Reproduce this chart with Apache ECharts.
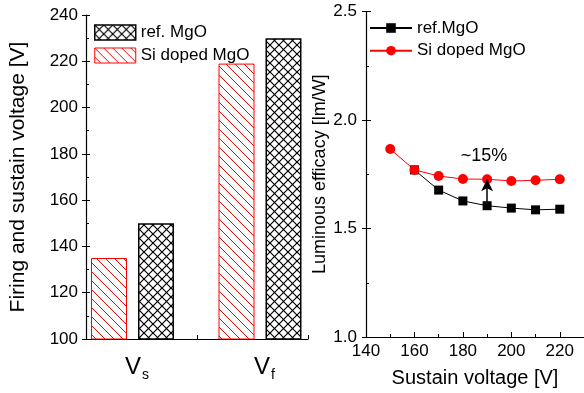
<!DOCTYPE html>
<html>
<head>
<meta charset="utf-8">
<script src="https://cdn.jsdelivr.net/npm/echarts@6/dist/echarts.min.js"></script>
<style>
  html, body { margin: 0; padding: 0; background: #fff; }
  #chart { width: 584px; height: 393px; }
</style>
</head>
<body>
<div id="chart"></div>
<script>
// Left panel: firing (Vf) and sustain (Vs) voltages
const voltCategories = ['Vs', 'Vf'];
const voltSiDoped = [135, 219];
const voltRef = [150, 230];
const voltTicks = [100, 120, 140, 160, 180, 200, 220, 240];

// Right panel: luminous efficacy vs sustain voltage
const effVoltRef = [160, 170, 180, 190, 200, 210, 220];
const effRef = [1.77, 1.677, 1.627, 1.605, 1.594, 1.586, 1.589];
const effVoltSi = [150, 160, 170, 180, 190, 200, 210, 220];
const effSi = [1.866, 1.77, 1.742, 1.728, 1.727, 1.719, 1.722, 1.727];
const effXTicks = [140, 160, 180, 200, 220];
const effYTicks = [1.0, 1.5, 2.0, 2.5];

const FONT = '"Liberation Sans", Arial, sans-serif';
const RED = '#ff0000';

// Hatch tiles used as bar fills
function hatchTile(color, width, cross) {
  const s = 9;
  const c = document.createElement('canvas');
  c.width = s; c.height = s;
  const g = c.getContext('2d');
  g.strokeStyle = color;
  g.lineWidth = width;
  for (let k = -s; k <= s; k += s) {
    g.beginPath(); g.moveTo(k, 0); g.lineTo(k + s, s); g.stroke();
    if (cross) { g.beginPath(); g.moveTo(k + s, 0); g.lineTo(k, s); g.stroke(); }
  }
  return { image: c, repeat: 'repeat' };
}
const siHatch = hatchTile(RED, 1, false);
const refHatch = hatchTile('#000', 1.2, true);

const pair = (xs, ys) => xs.map((x, i) => [x, ys[i]]);
const at190Ref = effRef[effVoltRef.indexOf(190)];
const at190Si = effSi[effVoltSi.indexOf(190)];

const tickLabel = { color: '#000', fontSize: 17, fontFamily: FONT };
const axisLine = { show: true, lineStyle: { color: '#000', width: 1.2 } };

const chart = echarts.init(document.getElementById('chart'), null, { renderer: 'canvas' });

chart.setOption({
  animation: false,
  backgroundColor: '#fff',
  grid: [
    { left: 86, top: 15, width: 222, height: 324 },      // left frame
    { left: 68.75, top: 15, width: 255, height: 324 },   // left bars
    { left: 366, top: 11.5, width: 220, height: 327 }    // right plot
  ],
  legend: [
    {
      orient: 'vertical', left: 89, top: 19, itemWidth: 41, itemHeight: 15, itemGap: 6,
      textStyle: { fontSize: 17, lineHeight: 17, fontFamily: FONT, color: '#000' },
      data: [
        { name: 'ref. MgO', icon: 'rect', itemStyle: { color: refHatch, borderColor: '#000', borderWidth: 1.5 } },
        { name: 'Si doped MgO', icon: 'rect', itemStyle: { color: siHatch, borderColor: RED, borderWidth: 1 } }
      ]
    },
    {
      orient: 'vertical', left: 364, top: 14.5, itemWidth: 42, itemHeight: 12, itemGap: 5.7,
      textStyle: { fontSize: 17, lineHeight: 17, fontFamily: FONT, color: '#000' },
      formatter: n => n.trim(),
      data: ['ref.MgO', 'Si doped MgO ']
    }
  ],
  xAxis: [
    {
      gridIndex: 0, type: 'category', data: voltCategories, boundaryGap: true,
      axisLine: axisLine, axisLabel: { show: false },
      axisTick: { show: true, inside: true, length: 4, interval: 0, lineStyle: { color: '#000' } },
      splitLine: { show: false }
    },
    {
      gridIndex: 1, type: 'category', data: voltCategories, boundaryGap: true,
      axisLine: { show: false }, axisTick: { show: false }, splitLine: { show: false },
      axisLabel: {
        margin: 14, color: '#000', fontFamily: FONT,
        formatter: v => '{v|V}{sub|' + v.slice(1) + '}',
        rich: {
          v: { fontSize: 24, lineHeight: 28, fontFamily: FONT, color: '#000', padding: [0, 0, 0, 9] },
          sub: { fontSize: 14, lineHeight: 14, fontFamily: FONT, color: '#000', padding: [16, 0, 0, 1] }
        }
      }
    },
    {
      gridIndex: 2, type: 'value', min: effXTicks[0], max: 230, interval: 20,
      axisLine: axisLine,
      axisTick: { show: true, inside: true, length: 5, lineStyle: { color: '#000' } },
      minorTick: { show: true, splitNumber: 2, length: 3, lineStyle: { color: '#000' } },
      axisLabel: Object.assign({ margin: 6 }, tickLabel),
      splitLine: { show: false },
      name: 'Sustain voltage [V]', nameLocation: 'middle', nameGap: 31,
      nameTextStyle: { fontSize: 20, fontFamily: FONT, color: '#000' }
    }
  ],
  yAxis: [
    {
      gridIndex: 0, type: 'value', position: 'left',
      min: voltTicks[0], max: voltTicks[voltTicks.length - 1], interval: 20,
      axisLine: axisLine,
      axisTick: { show: true, inside: false, length: 4, lineStyle: { color: '#000' } },
      axisLabel: Object.assign({ margin: 8 }, tickLabel),
      splitLine: { show: false },
      name: 'Firing and sustain voltage [V]', nameLocation: 'middle', nameGap: 57,
      nameTextStyle: { fontSize: 21, fontFamily: FONT, color: '#000' }
    },
    {
      gridIndex: 0, type: 'value', position: 'left',
      min: voltTicks[0], max: voltTicks[voltTicks.length - 1], interval: 20,
      axisLine: { show: false }, axisLabel: { show: false }, splitLine: { show: false },
      axisTick: { show: true, inside: true, length: 4, lineStyle: { color: '#000' } },
      minorTick: { show: true, splitNumber: 2, length: 3, lineStyle: { color: '#000' } }
    },
    {
      gridIndex: 1, type: 'value', show: false,
      min: voltTicks[0], max: voltTicks[voltTicks.length - 1]
    },
    {
      gridIndex: 2, type: 'value', position: 'left',
      min: effYTicks[0], max: effYTicks[effYTicks.length - 1], interval: 0.5,
      axisLine: axisLine,
      axisTick: { show: true, inside: false, length: 4, lineStyle: { color: '#000' } },
      axisLabel: Object.assign({ margin: 9, formatter: v => v.toFixed(1) }, tickLabel),
      splitLine: { show: false },
      name: 'Luminous efficacy [lm/W]', nameLocation: 'middle', nameGap: 31,
      nameTextStyle: { fontSize: 18, fontFamily: FONT, color: '#000' }
    },
    {
      gridIndex: 2, type: 'value', position: 'left',
      min: effYTicks[0], max: effYTicks[effYTicks.length - 1], interval: 0.5,
      axisLine: { show: false }, axisLabel: { show: false }, splitLine: { show: false },
      axisTick: { show: true, inside: true, length: 5, lineStyle: { color: '#000' } },
      minorTick: { show: true, splitNumber: 2, length: 3, lineStyle: { color: '#000' } }
    }
  ],
  series: [
    {
      name: 'Si doped MgO', type: 'bar', xAxisIndex: 1, yAxisIndex: 2,
      data: voltSiDoped, barWidth: 36, barGap: '30.5%',
      itemStyle: { color: siHatch, borderColor: RED, borderWidth: 1 }
    },
    {
      name: 'ref. MgO', type: 'bar', xAxisIndex: 1, yAxisIndex: 2,
      data: voltRef, barWidth: 36, barGap: '30.5%',
      itemStyle: { color: refHatch, borderColor: '#000', borderWidth: 1.5 }
    },
    {
      name: 'ref.MgO', type: 'line', xAxisIndex: 2, yAxisIndex: 3,
      data: pair(effVoltRef, effRef),
      symbol: 'rect', symbolSize: 9,
      lineStyle: { color: '#000', width: 1 },
      itemStyle: { color: '#000' },
      markLine: {
        silent: true, symbol: ['none', 'arrow'], symbolSize: [9, 12],
        lineStyle: { color: '#000', width: 1.5, type: 'solid' },
        label: { show: false },
        data: [[{ coord: [190, at190Ref] }, { coord: [190, at190Si] }]]
      }
    },
    {
      name: 'Si doped MgO ', type: 'line', xAxisIndex: 2, yAxisIndex: 3,
      data: pair(effVoltSi, effSi),
      symbol: 'circle', symbolSize: 10,
      lineStyle: { color: RED, width: 1 },
      itemStyle: { color: RED },
      z: 3,
      markPoint: {
        silent: true, symbol: 'circle', symbolSize: 0,
        label: { show: true, position: 'inside', formatter: '~15%', fontSize: 18, fontFamily: FONT, color: '#000' },
        data: [{ coord: [188.7, 1.833] }]
      }
    }
  ]
});
</script>
</body>
</html>
